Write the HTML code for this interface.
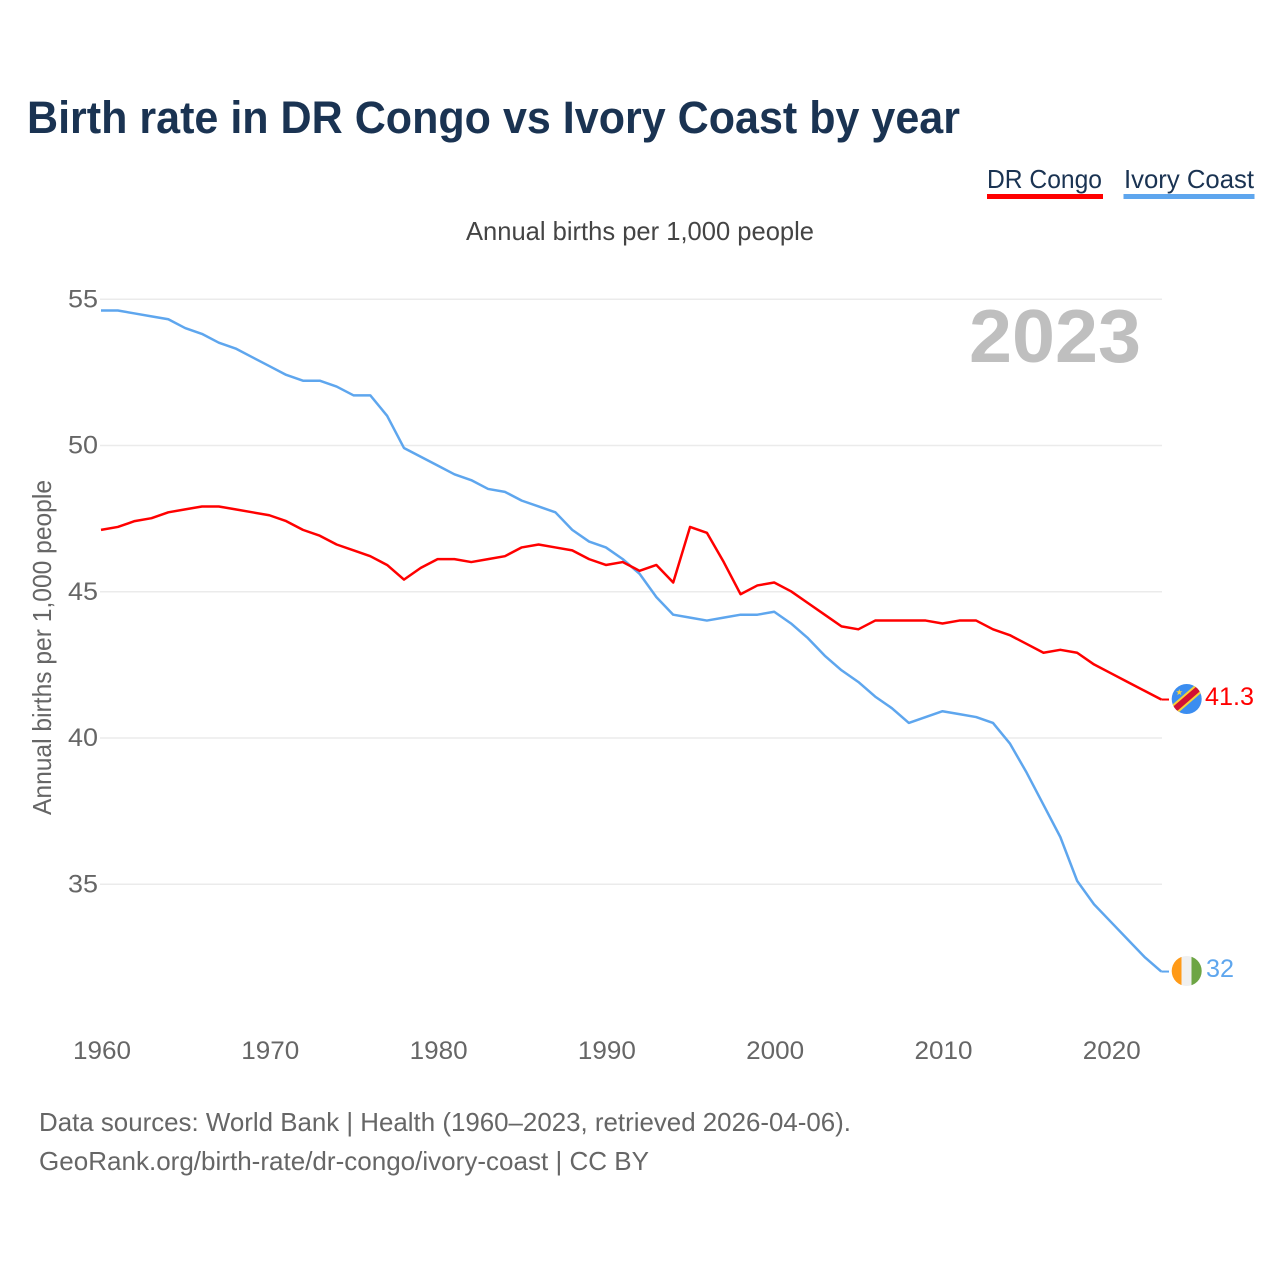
<!DOCTYPE html>
<html lang="en">
<head>
<meta charset="utf-8">
<title>Birth rate in DR Congo vs Ivory Coast by year</title>
<style>
  html, body { margin: 0; padding: 0; background: #fff; }
  svg { display: block; font-family: "Liberation Sans", sans-serif; }
</style>
</head>
<body>
<svg id="chart" xmlns="http://www.w3.org/2000/svg" width="1280" height="1280" viewBox="0 0 1280 1280">
  <defs>
    <clipPath id="flag-clip-drc"><circle cx="1186.700" cy="699" r="15"/></clipPath>
    <clipPath id="flag-clip-civ"><circle cx="1186.700" cy="971" r="15"/></clipPath>
  </defs>
  <rect x="0" y="0" width="1280" height="1280" fill="#ffffff"/>
  <text x="27" y="133" font-size="45" font-weight="700" fill="#1a3352" textLength="933" lengthAdjust="spacingAndGlyphs">Birth rate in DR Congo vs Ivory Coast by year</text>

  <g>
    <g>
      <text x="987" y="188" font-size="26" fill="#1a3352" textLength="115" lengthAdjust="spacingAndGlyphs">DR Congo</text>
      <rect x="987" y="194" width="116" height="5" fill="#ff0000"/>
    </g>
    <g>
      <text x="1124" y="188" font-size="26" fill="#1a3352" textLength="130" lengthAdjust="spacingAndGlyphs">Ivory Coast</text>
      <rect x="1123.500" y="194" width="131" height="5" fill="#5ea6ee"/>
    </g>
  </g>

  <text x="466" y="240" font-size="26" fill="#444444" textLength="348" lengthAdjust="spacingAndGlyphs">Annual births per 1,000 people</text>
  <text transform="translate(51 815) rotate(-90)" font-size="26" fill="#666666" textLength="335" lengthAdjust="spacingAndGlyphs">Annual births per 1,000 people</text>
  <text x="969" y="362" font-size="75" font-weight="700" fill="#bfbfbf" textLength="172" lengthAdjust="spacingAndGlyphs">2023</text>

  <g id="y-grid"></g>
  <g id="x-axis"></g>
  <g id="series"></g>

  <g clip-path="url(#flag-clip-drc)">
    <rect x="1170" y="683" width="33" height="33" fill="#3b8df0"/>
    <line x1="1168" y1="715" x2="1205" y2="683" stroke="#f7d038" stroke-width="10"/>
    <line x1="1168" y1="715" x2="1205" y2="683" stroke="#d21034" stroke-width="6"/>
    <polygon points="1179.300,689 1180.100,691.200 1182.500,691.300 1180.600,692.800 1181.300,695.100 1179.300,693.800 1177.300,695.100 1178,692.800 1176.100,691.300 1178.500,691.200" fill="#f7d038"/>
  </g>
  <g clip-path="url(#flag-clip-civ)">
    <rect x="1171" y="955" width="10.500" height="32" fill="#ff9a17"/>
    <rect x="1181.500" y="955" width="10" height="32" fill="#f0f0f0"/>
    <rect x="1191.500" y="955" width="11" height="32" fill="#6da544"/>
  </g>
  <text id="value-label-drc" x="1205" y="705" font-size="25" fill="#ff0000" textLength="49" lengthAdjust="spacingAndGlyphs"></text>
  <text id="value-label-civ" x="1206" y="977" font-size="25" fill="#5ea6ee" textLength="28" lengthAdjust="spacingAndGlyphs"></text>

  <g>
    <text x="39" y="1131" font-size="26" fill="#666666" textLength="812" lengthAdjust="spacingAndGlyphs">Data sources: World Bank | Health (1960–2023, retrieved 2026-04-06).</text>
    <text x="39" y="1170" font-size="26" fill="#666666" textLength="610" lengthAdjust="spacingAndGlyphs">GeoRank.org/birth-rate/dr-congo/ivory-coast | CC BY</text>
  </g>
</svg>
<script>
var years = [1960,1961,1962,1963,1964,1965,1966,1967,1968,1969,1970,1971,1972,1973,1974,1975,1976,1977,1978,1979,1980,1981,1982,1983,1984,1985,1986,1987,1988,1989,1990,1991,1992,1993,1994,1995,1996,1997,1998,1999,2000,2001,2002,2003,2004,2005,2006,2007,2008,2009,2010,2011,2012,2013,2014,2015,2016,2017,2018,2019,2020,2021,2022,2023];
var drCongo = [47.1,47.2,47.4,47.5,47.7,47.8,47.9,47.9,47.8,47.7,47.6,47.4,47.1,46.9,46.6,46.4,46.2,45.9,45.4,45.8,46.1,46.1,46.0,46.1,46.2,46.5,46.6,46.5,46.4,46.1,45.9,46.0,45.7,45.9,45.3,47.2,47.0,46.0,44.9,45.2,45.3,45.0,44.6,44.2,43.8,43.7,44.0,44.0,44.0,44.0,43.9,44.0,44.0,43.7,43.5,43.2,42.9,43.0,42.9,42.5,42.2,41.9,41.6,41.3];
var ivoryCoast = [54.6,54.6,54.5,54.4,54.3,54.0,53.8,53.5,53.3,53.0,52.7,52.4,52.2,52.2,52.0,51.7,51.7,51.0,49.9,49.6,49.3,49.0,48.8,48.5,48.4,48.1,47.9,47.7,47.1,46.7,46.5,46.1,45.6,44.8,44.2,44.1,44.0,44.1,44.2,44.2,44.3,43.9,43.4,42.8,42.3,41.9,41.4,41.0,40.5,40.7,40.9,40.8,40.7,40.5,39.8,38.8,37.7,36.6,35.1,34.3,33.7,33.1,32.5,32.0];
var yTicks = [55,50,45,40,35];
var xTicks = [1960,1970,1980,1990,2000,2010,2020];

var NS = 'http://www.w3.org/2000/svg';
function xScale(year) { return 101 + (year - 1960) * 16.83; }
function yScale(v) { return 299.3 + (55 - v) * 29.25; }
function make(tag, attrs, parent) {
  var el = document.createElementNS(NS, tag);
  for (var k in attrs) el.setAttribute(k, attrs[k]);
  parent.appendChild(el);
  return el;
}

var gridGroup = document.getElementById('y-grid');
yTicks.forEach(function (t) {
  var line = make('line', { x1: 100, x2: 1162, y1: yScale(t), y2: yScale(t), stroke: '#ebebeb', 'stroke-width': 1.5 }, gridGroup);
  
  
  var label = make('text', { x: 68, y: yScale(t) + 8, 'font-size': 25, fill: '#666666', textLength: 30, lengthAdjust: 'spacingAndGlyphs' }, gridGroup);
  
  
  label.textContent = t;
});

var xGroup = document.getElementById('x-axis');
xTicks.forEach(function (t) {
  var label = make('text', { x: xScale(t) + 1, y: 1059, 'font-size': 25, fill: '#666666', 'text-anchor': 'middle', textLength: 58, lengthAdjust: 'spacingAndGlyphs' }, xGroup);
  
  
  label.textContent = t;
});

function pathFor(values) {
  return values.map(function (v, i) {
    return (i ? 'L' : 'M') + xScale(years[i]).toFixed(2) + ' ' + (yScale(v) - 0.5).toFixed(2);
  }).join(' ');
}
var seriesGroup = document.getElementById('series');
var blueLine = make('path', { d: pathFor(ivoryCoast), fill: 'none', stroke: '#5ea6ee', 'stroke-width': 2.5, 'stroke-linejoin': 'round' }, seriesGroup);


var redLine = make('path', { d: pathFor(drCongo), fill: 'none', stroke: '#ff0000', 'stroke-width': 2.5, 'stroke-linejoin': 'round' }, seriesGroup);



var lastX = xScale(years[years.length - 1]);
var redTail = make('line', { x1: lastX, x2: 1169, y1: yScale(drCongo[drCongo.length - 1]) - 0.5, y2: yScale(drCongo[drCongo.length - 1]) - 0.5, stroke: '#ff0000', 'stroke-width': 2 }, seriesGroup);


var blueTail = make('line', { x1: lastX, x2: 1169, y1: yScale(ivoryCoast[ivoryCoast.length - 1]) - 0.5, y2: yScale(ivoryCoast[ivoryCoast.length - 1]) - 0.5, stroke: '#5ea6ee', 'stroke-width': 2 }, seriesGroup);



document.getElementById('value-label-drc').textContent = String(drCongo[drCongo.length - 1]);
document.getElementById('value-label-civ').textContent = String(ivoryCoast[ivoryCoast.length - 1]);
</script>
</body>
</html>
